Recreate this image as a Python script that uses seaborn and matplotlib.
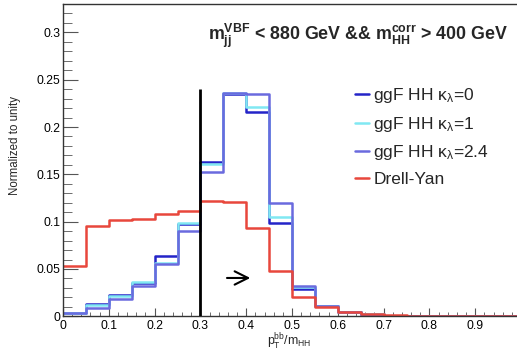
import numpy as np
import pandas as pd
import matplotlib
matplotlib.use("Agg")
import matplotlib.pyplot as plt
from matplotlib.ticker import MultipleLocator
from matplotlib.lines import Line2D
import seaborn as sns

# Binning of pT(bb)/m(HH)
bin_edges = [round(0.05 * i, 2) for i in range(21)]

# Normalized yields per bin
ggf_k0 = [0.004, 0.013, 0.0228, 0.035, 0.0637, 0.0972, 0.163, 0.235, 0.216, 0.099,
          0.029, 0.011, 0.005, 0.002, 0.0006, 0.0002, 0.0001, 0.0, 0.0, 0.0]
ggf_k1 = [0.004, 0.0116, 0.021, 0.0366, 0.056, 0.099, 0.1607, 0.236, 0.221, 0.1047,
          0.031, 0.011, 0.005, 0.002, 0.0006, 0.0002, 0.0001, 0.0, 0.0, 0.0]
ggf_k24 = [0.003, 0.0088, 0.0186, 0.0317, 0.055, 0.0898, 0.1525, 0.236, 0.2353, 0.1195,
           0.0324, 0.011, 0.0045, 0.0015, 0.0005, 0.0002, 0.0001, 0.0, 0.0, 0.0]
drell_yan = [0.053, 0.0958, 0.1015, 0.1025, 0.1085, 0.1117, 0.1222, 0.121, 0.0933, 0.0475,
             0.0207, 0.0095, 0.0042, 0.002, 0.001, 0.0006, 0.0004, 0.0003, 0.0002, 0.0002]

labels = ["ggF HH κ$_\\mathregular{λ}$=0", "ggF HH κ$_\\mathregular{λ}$=1",
          "ggF HH κ$_\\mathregular{λ}$=2.4", "Drell-Yan"]
colors = ["#2424c8", "#80e8f2", "#6a6ade", "#e8473c"]
series = [ggf_k0, ggf_k1, ggf_k24, drell_yan]

cut_value = 0.3
cut_height = 0.24

sns.set_style("ticks")
plt.rcParams["font.family"] = ["Liberation Sans", "DejaVu Sans"]
plt.rcParams["mathtext.fontset"] = "custom"
plt.rcParams["mathtext.rm"] = "Liberation Sans"
plt.rcParams["mathtext.it"] = "Liberation Sans"
plt.rcParams["mathtext.bf"] = "Liberation Sans:bold"

fig = plt.figure(figsize=(5.17, 3.51), dpi=100)
ax = fig.add_axes([63 / 517, 1 - 316.3 / 351, 458 / 517, 312.3 / 351])

centers = [(bin_edges[i] + bin_edges[i + 1]) / 2 for i in range(20)]
for vals, col, lab in zip(series, colors, labels):
    df = pd.DataFrame({"x": centers, "w": vals})
    sns.histplot(data=df, x="x", weights="w", bins=bin_edges, element="step",
                 fill=False, color=col, linewidth=1.8, ax=ax)

ax.vlines(cut_value, 0, cut_height, color="black", linewidth=2, zorder=5)
ax.annotate("", xy=(0.415, 0.0405), xytext=(0.352, 0.0405),
            arrowprops=dict(arrowstyle="->", lw=1.5, color="black", mutation_scale=24))

ax.set_xlim(0, 1)
ax.set_ylim(0, 0.33)
ax.xaxis.set_major_locator(MultipleLocator(0.1))
ax.xaxis.set_minor_locator(MultipleLocator(0.02))
ax.yaxis.set_major_locator(MultipleLocator(0.05))
ax.yaxis.set_minor_locator(MultipleLocator(0.01))
ax.set_xticks(np.arange(0, 1.0, 0.1))
ax.set_xticklabels(["0"] + [f"{v:.1f}" for v in np.arange(0.1, 0.95, 0.1)])
ax.set_yticks(np.arange(0, 0.31, 0.05))
ax.set_yticklabels(["0", "0.05", "0.1", "0.15", "0.2", "0.25", "0.3"])

ax.tick_params(axis="both", which="both", direction="in", colors="#555555",
               labelcolor="black", labelsize=8.7)
ax.tick_params(axis="y", which="major", length=11, pad=2)
ax.tick_params(axis="y", which="minor", length=6.5)
ax.tick_params(axis="x", which="major", length=5.8, pad=3)
ax.tick_params(axis="x", which="minor", length=2.6)
for s in ax.spines.values():
    s.set_color("#333333")
    s.set_linewidth(1.0)

ax.set_ylabel("Normalized to unity", fontsize=8.3)
ax.yaxis.set_label_coords(-0.092, 0.547)
ax.set_xlabel(r"$\mathregular{p_{T}^{bb}/m_{HH}}$", fontsize=8.8)
ax.xaxis.set_label_coords(0.494, -0.051)

handles = [Line2D([0], [0], color=c, lw=1.8) for c in colors]
fig.legend(handles, labels, loc="upper left", bbox_to_anchor=(355 / 517, 1 - 86 / 351),
           frameon=False, fontsize=12.5, handlelength=0.8, handletextpad=0.25,
           labelspacing=0.56, borderaxespad=0, borderpad=0)

fig.text(508 / 517, 1 - 40 / 351,
         r"$\mathbf{m_{jj}^{VBF}}$ < 880 GeV && $\mathbf{m_{HH}^{corr}}$ > 400 GeV",
         ha="right", va="baseline", fontsize=12.8, fontweight="bold")

fig.savefig("out.png", dpi=100)
